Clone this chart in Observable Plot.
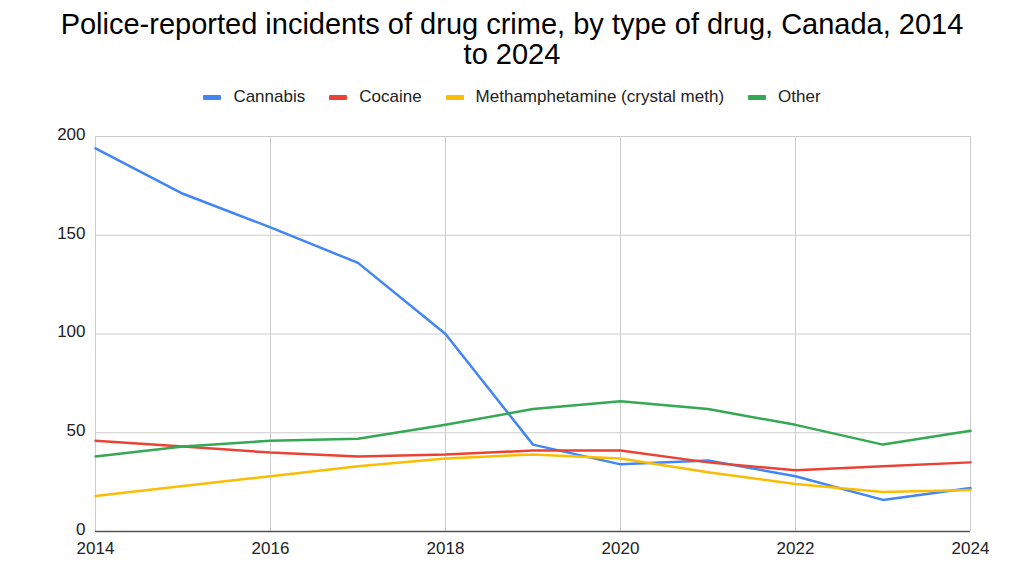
<!DOCTYPE html>
<html>
<head>
<meta charset="utf-8">
<script src="https://cdn.jsdelivr.net/npm/d3@7"></script>
<script src="https://cdn.jsdelivr.net/npm/@observablehq/plot@0.6"></script>
<style>
  html, body { margin: 0; padding: 0; background: #fff; }
  body { width: 1024px; height: 576px; position: relative; overflow: hidden; font-family: "Liberation Sans", Arial, sans-serif; }
  #title { position: absolute; top: 9px; left: 0; width: 1024px; text-align: center; font-size: 29px; line-height: 30px; color: #000; }
  #legend { position: absolute; top: 87px; left: 0; width: 1024px; display: flex; justify-content: center; gap: 24px; font-size: 17px; color: #222; }
  #legend .item { display: flex; align-items: center; gap: 12px; }
  #legend .sw { width: 18px; height: 5px; border-radius: 1px; display: inline-block; }
  #chart { position: absolute; top: 110px; left: 0; width: 1024px; height: 466px; overflow: hidden; }
  #chart svg { max-width: none !important; }
</style>
</head>
<body>
<div id="title">Police-reported incidents of drug crime, by type of drug, Canada, 2014<br>to 2024</div>
<div id="legend"></div>
<div id="chart"></div>
<script>
const years = [2014, 2015, 2016, 2017, 2018, 2019, 2020, 2021, 2022, 2023, 2024];
const seriesNames = ["Cannabis", "Cocaine", "Methamphetamine (crystal meth)", "Other"];
const cannabis = [194, 171, 154, 136, 100, 44, 34, 36, 28, 16, 22];
const cocaine = [46, 43, 40, 38, 39, 41, 41, 35, 31, 33, 35];
const meth = [18, 23, 28, 33, 37, 39, 37, 30, 24, 20, 21];
const other = [38, 43, 46, 47, 54, 62, 66, 62, 54, 44, 51];
const colors = ["#4285F4", "#EA4335", "#FBBC04", "#34A853"];
const yTicks = [0, 50, 100, 150, 200];
const xTicks = [2014, 2016, 2018, 2020, 2022, 2024];

const valuesBySeries = [cannabis, cocaine, meth, other];
const data = [];
seriesNames.forEach((name, i) => {
  years.forEach((yr, j) => data.push({ series: name, year: yr, value: valuesBySeries[i][j] }));
});

// legend
const legend = document.getElementById("legend");
seriesNames.forEach((name, i) => {
  const it = document.createElement("div");
  it.className = "item";
  const sw = document.createElement("span");
  sw.className = "sw";
  sw.style.background = colors[i];
  const tx = document.createElement("span");
  tx.textContent = name;
  it.appendChild(sw); it.appendChild(tx);
  legend.appendChild(it);
});

const chart = Plot.plot({
  width: 1024,
  height: 466,
  marginTop: 26,
  marginBottom: 45,
  marginLeft: 95,
  marginRight: 54,
  style: { fontFamily: "'Liberation Sans', Arial, sans-serif", fontSize: "17px", color: "#222", background: "#fff", overflow: "visible", maxWidth: "none" },
  x: { domain: [2014, 2024], ticks: xTicks, tickFormat: "d", label: null, tickSize: 0, tickPadding: 10 },
  y: { domain: [0, 200], ticks: yTicks, label: null, tickSize: 0, tickPadding: 10 },
  color: { domain: seriesNames, range: colors },
  marks: [
    Plot.ruleY(yTicks.filter(d => d > 0), { stroke: "#cccccc", strokeWidth: 1 }),
    Plot.ruleX(xTicks, { stroke: "#cccccc", strokeWidth: 1 }),
    Plot.axisX({ ticks: xTicks, tickFormat: "d", tickSize: 0, tickPadding: 10, fontSize: 17 }),
    Plot.axisY({ ticks: yTicks, tickSize: 0, tickPadding: 10, fontSize: 17, dy: -2 }),
    Plot.line(data, { x: "year", y: "value", stroke: "series", z: "series", strokeWidth: 2.5, strokeLinejoin: "round" }),
    Plot.ruleY([0], { stroke: "#555555", strokeWidth: 1.5 })
  ]
});
document.getElementById("chart").appendChild(chart);
</script>
</body>
</html>
